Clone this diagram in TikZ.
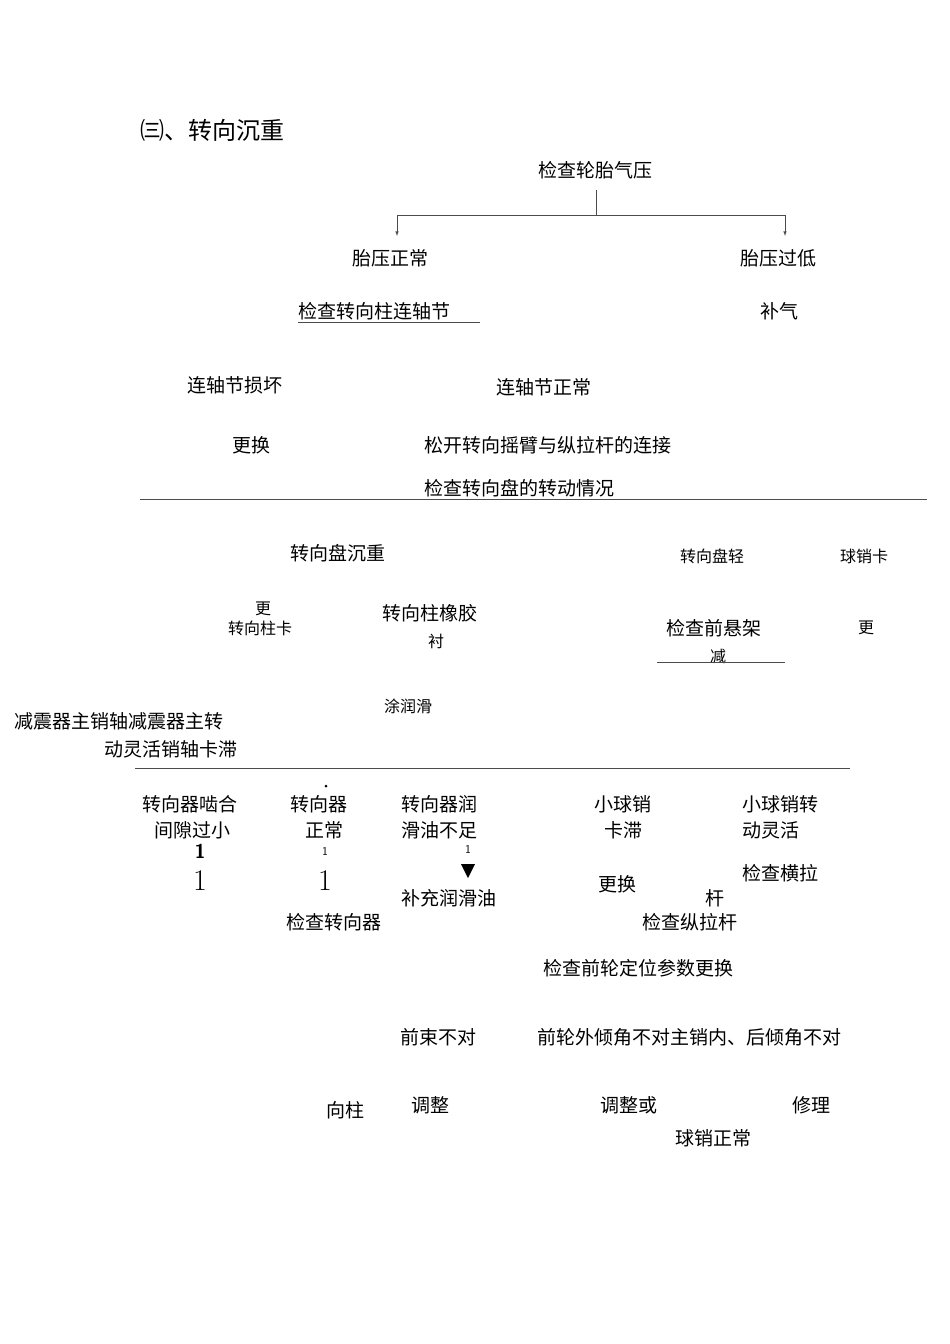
\documentclass[tikz,border=0pt]{standalone}
\usepackage{fontspec}
\newfontfamily\cjk{Noto Sans CJK SC}
\begin{document}
\begin{tikzpicture}[x=1pt,y=-1pt,
  t/.style={font=\cjk\fontsize{19}{22}\selectfont,inner sep=0pt,anchor=west},
  ts/.style={font=\cjk\fontsize{16}{18}\selectfont,inner sep=0pt,anchor=west},
  ln/.style={line width=0.6pt,gray!60!black}]
\useasboundingbox (0,0) rectangle (950,1344);
\node[t,font=\cjk\fontsize{24}{26}\selectfont] (title) at (140,130) {㈢、转向沉重};
\node[t] (n1) at (538,170) {检查轮胎气压};
\node[t] (n2) at (352,258) {胎压正常};
\node[t] (n3) at (740,258) {胎压过低};
\node[t] (n4) at (298,311) {检查转向柱连轴节};
\node[t] (n5) at (760,311) {补气};
\node[t] (n6) at (187,385) {连轴节损坏};
\node[t] (n7) at (496,387) {连轴节正常};
\node[t] (n8) at (232,445) {更换};
\node[t] (n9) at (424,445) {松开转向摇臂与纵拉杆的连接};
\node[t] (n10) at (424,488) {检查转向盘的转动情况};
\node[t] (n11) at (290,553) {转向盘沉重};
\node[ts] (n12) at (680,556) {转向盘轻};
\node[ts] (n13) at (840,556) {球销卡};
\node[ts] (n14) at (255,609) {更};
\node[ts] (n15) at (228,628) {转向柱卡};
\node[t] (n16) at (382,613) {转向柱橡胶};
\node[ts] (n17) at (428,641) {衬};
\node[t] (n18) at (666,628) {检查前悬架};
\node[ts] (n19) at (710,656) {减};
\node[ts] (n20) at (858,628) {更};
\node[ts] (n21) at (384,706) {涂润滑};
\node[t] (n22) at (14,721) {减震器主销轴减震器主转};
\node[t] (n23) at (104,749) {动灵活销轴卡滞};
\node[t] (a1) at (142,804) {转向器啮合};
\node[t] (a2) at (154,830) {间隙过小};
\node[t] (b1) at (290,804) {转向器};
\node[t] (b2) at (305,830) {正常};
\node[t] (c1) at (401,804) {转向器润};
\node[t] (c2) at (401,830) {滑油不足};
\node[t] (d1) at (594,804) {小球销};
\node[t] (d2) at (604,830) {卡滞};
\node[t] (e1) at (742,804) {小球销转};
\node[t] (e2) at (742,830) {动灵活};
\node[font=\sffamily\bfseries\fontsize{20}{20}\selectfont] (o1) at (200,851) {1};
\node[font=\sffamily\fontsize{12}{12}\selectfont] (o2) at (325,851) {1};
\node[font=\sffamily\fontsize{12}{12}\selectfont] (o3) at (468,849) {1};
\node[font=\fontsize{30}{30}\selectfont] (o4) at (200,881) {1};
\node[font=\fontsize{30}{30}\selectfont] (o5) at (325,881) {1};
\fill (326,786) circle (1.5);
\fill (461,864) -- (475,864) -- (468,878) -- cycle;
\node[t] (f1) at (401,898) {补充润滑油};
\node[t] (g1) at (598,884) {更换};
\node[t] (h1) at (742,873) {检查横拉};
\node[t] (h2) at (705,898) {杆};
\node[t] (k1) at (286,922) {检查转向器};
\node[t] (k2) at (642,922) {检查纵拉杆};
\node[t] (m1) at (543,968) {检查前轮定位参数更换};
\node[t] (m2) at (400,1037) {前束不对};
\node[t] (m3) at (537,1037) {前轮外倾角不对主销内、后倾角不对};
\node[t] (p1) at (326,1110) {向柱};
\node[t] (p2) at (411,1105) {调整};
\node[t] (p3) at (600,1105) {调整或};
\node[t] (p4) at (792,1105) {修理};
\node[t] (p5) at (675,1138) {球销正常};
\coordinate (j) at (596,215);
\draw[ln] (596,190) -- (j);
\draw[ln,-latex] (j) -| (397,236);
\draw[ln,-latex] (j) -| (785,236);
\draw[ln] (298,322) -- (480,322);
\draw[ln] (140,499) -- (927,499);
\draw[ln] (657,662) -- (785,662);
\draw[ln] (135,768) -- (850,768);
\end{tikzpicture}
\end{document}
